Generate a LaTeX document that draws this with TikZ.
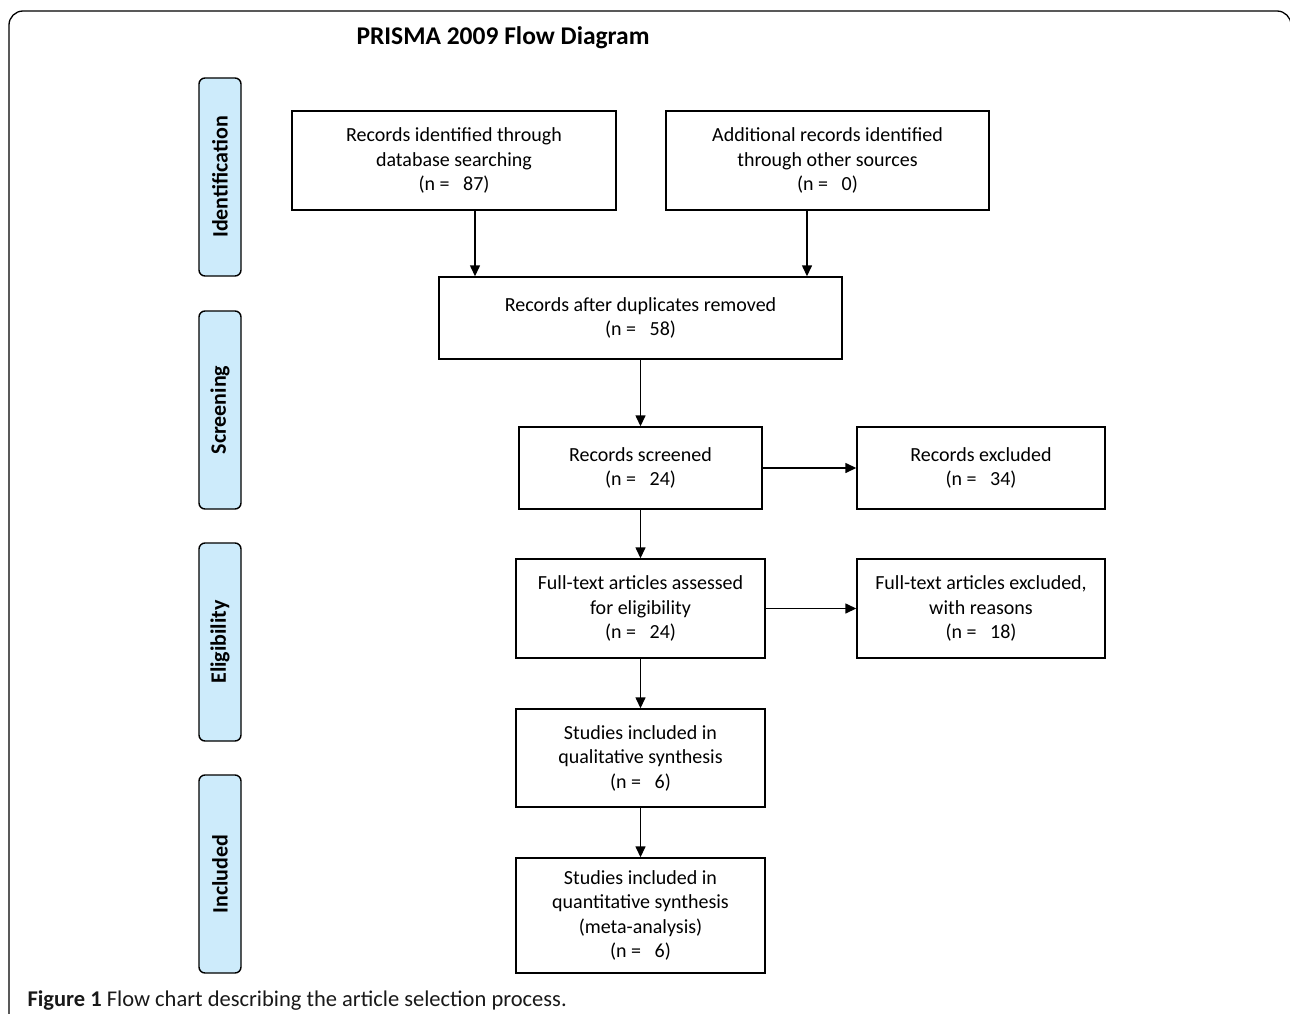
\documentclass[tikz,border=0pt]{standalone}
\usepackage{fontspec}
\setmainfont{Carlito}
\usetikzlibrary{arrows.meta}
\definecolor{sideblue}{HTML}{CDEBFB}
\begin{document}
\begin{tikzpicture}[x=1pt,y=-1pt,
  every node/.style={font=\fontsize{20}{24.5}\selectfont},
  flowbox/.style={draw, line width=1.4pt, inner sep=0pt, align=center},
  sidebox/.style={draw, line width=1.4pt, fill=sideblue, rounded corners=6pt, rotate=90,
     minimum width=198pt, minimum height=42pt, inner sep=0pt, font=\fontsize{22}{26}\selectfont\bfseries},
  arr/.style={line width=1.4pt, -{Triangle[length=11pt,width=10pt]}}]
\useasboundingbox (0,0) rectangle (1290,1014);
% outer frame
\draw[line width=1.3pt, rounded corners=14pt] (9,1030) -- (9,11) -- (1291,11) -- (1291,1030);
% title
\node[font=\fontsize{25.5}{30}\selectfont\bfseries] (title) at (503,38) {PRISMA 2009 Flow Diagram};
% side labels
\node[sidebox] (s1) at (220,177) {Identification};
\node[sidebox] (s2) at (220,410) {Screening};
\node[sidebox] (s3) at (220,642) {Eligibility};
\node[sidebox] (s4) at (220,874) {Included};
% boxes
\node[flowbox, minimum width=324pt, minimum height=99pt] (A) at (454,160.5)
  {Records identified through\\database searching\\(n =\ \ \ 87)};
\node[flowbox, minimum width=323pt, minimum height=99pt] (B) at (827.5,160.5)
  {Additional records identified\\through other sources\\(n =\ \ \ 0)};
\node[flowbox, minimum width=403pt, minimum height=82pt] (C) at (640.5,318)
  {Records after duplicates removed\\(n =\ \ \ 58)};
\node[flowbox, minimum width=243pt, minimum height=82pt] (D) at (640.5,468)
  {Records screened\\(n =\ \ \ 24)};
\node[flowbox, minimum width=248pt, minimum height=82pt] (E) at (981,468)
  {Records excluded\\(n =\ \ \ 34)};
\node[flowbox, minimum width=249pt, minimum height=99pt] (F) at (640.5,608.5)
  {Full-text articles assessed\\for eligibility\\(n =\ \ \ 24)};
\node[flowbox, minimum width=248pt, minimum height=99pt] (G) at (981,608.5)
  {Full-text articles excluded,\\with reasons\\(n =\ \ \ 18)};
\node[flowbox, minimum width=249pt, minimum height=98pt] (H) at (640.5,758)
  {Studies included in\\qualitative synthesis\\(n =\ \ \ 6)};
\node[flowbox, minimum width=249pt, minimum height=115pt] (I) at (640.5,915.5)
  {Studies included in\\quantitative synthesis\\(meta-analysis)\\(n =\ \ \ 6)};
% arrows
\draw[arr] ([xshift=21pt]A.south) -- ([xshift=21pt]A.south |- C.north);
\draw[arr] ([xshift=-20.5pt]B.south) -- ([xshift=-20.5pt]B.south |- C.north);
\draw[arr] (C.south) -- (D.north);
\draw[arr] (D.east) -- (E.west);
\draw[arr] (D.south) -- (F.north);
\draw[arr] (F.east) -- (F.east -| G.west);
\draw[arr] (F.south) -- (H.north);
\draw[arr] (H.south) -- (I.north);
% caption
\node[anchor=base west, font=\fontsize{22.5}{26}\selectfont, text=black!90] (cap) at (24,1006)
  {\textbf{Figure 1} Flow chart describing the article selection process.};
\end{tikzpicture}
\end{document}
